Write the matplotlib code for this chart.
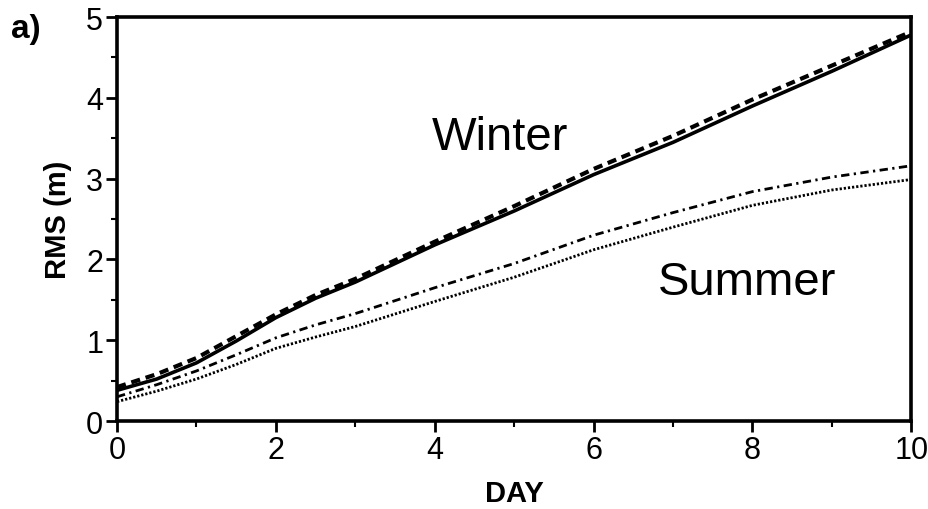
import numpy as np
import matplotlib
matplotlib.use("Agg")
import matplotlib.pyplot as plt
from matplotlib.ticker import MultipleLocator

plt.rcParams['font.family'] = ['Liberation Sans', 'DejaVu Sans']

# RMS error growth (m) against forecast day
days = [0, 0.5, 1, 1.5, 2, 2.5, 3, 4, 5, 6, 7, 8, 9, 10]
winter_solid = [0.38, 0.52, 0.72, 0.99, 1.28, 1.52, 1.72, 2.18, 2.60, 3.05, 3.45, 3.90, 4.33, 4.78]
winter_dashed = [0.42, 0.58, 0.78, 1.05, 1.32, 1.56, 1.76, 2.22, 2.66, 3.12, 3.53, 3.98, 4.40, 4.82]
summer_dashdot = [0.30, 0.45, 0.62, 0.82, 1.03, 1.19, 1.33, 1.65, 1.95, 2.30, 2.58, 2.84, 3.02, 3.16]
summer_dotted = [0.24, 0.37, 0.52, 0.70, 0.90, 1.04, 1.17, 1.48, 1.78, 2.12, 2.40, 2.67, 2.86, 2.99]

fig = plt.figure(figsize=(9.29, 5.10), dpi=100)
ax = fig.add_axes([0.126, 0.1725, 0.855, 0.792])

ax.plot(days, winter_solid, color='black', lw=2.6, solid_capstyle='butt')
ax.plot(days, winter_dashed, color='black', lw=3.0, dashes=(2.2, 1.4))
ax.plot(days, summer_dashdot, color='black', lw=2.0, dashes=(3.0, 1.6, 0.8, 1.6))
ax.plot(days, summer_dotted, color='black', lw=2.0, dashes=(0.8, 0.7))

ax.set_xlim(0, 10)
ax.set_ylim(0, 5)
ax.xaxis.set_major_locator(MultipleLocator(2))
ax.xaxis.set_minor_locator(MultipleLocator(1))
ax.yaxis.set_major_locator(MultipleLocator(1))
ax.yaxis.set_minor_locator(MultipleLocator(0.5))
ax.tick_params(which='major', direction='out', length=8, width=2, labelsize=22, pad=2)
ax.tick_params(which='minor', direction='out', length=4, width=1.5)
ax.tick_params(top=False, right=False)
for s in ax.spines.values():
    s.set_linewidth(2.6)

ax.set_xlabel('DAY', fontsize=21, fontweight='heavy', labelpad=10)
ax.set_ylabel('RMS (m)', fontsize=21, fontweight='heavy', labelpad=10)

ax.text(4.82, 3.52, 'Winter', fontsize=34, ha='center', va='center')
ax.text(7.93, 1.72, 'Summer', fontsize=34, ha='center', va='center')
fig.text(0.012, 0.925, 'a)', fontsize=24, fontweight='bold')

fig.savefig('out.png', dpi=100, facecolor='white')
